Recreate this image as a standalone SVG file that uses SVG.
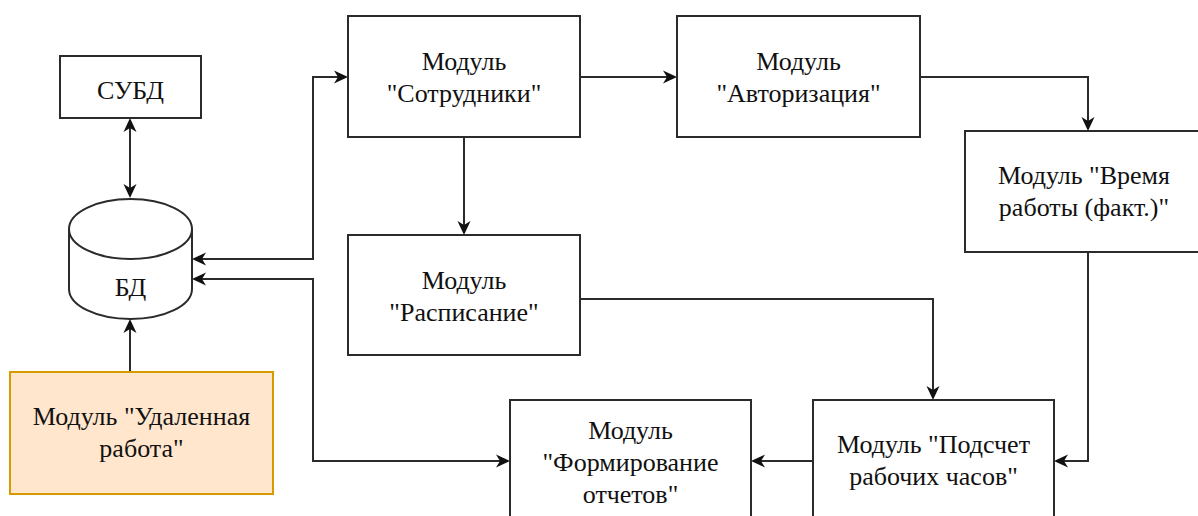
<svg xmlns="http://www.w3.org/2000/svg" width="1198" height="516" viewBox="0 0 1198 516">
<style>
.box{fill:#ffffff;stroke:#2b2b2b;stroke-width:2}
.orange{fill:#ffe6cc;stroke:#d79b00;stroke-width:2}
text{font-family:'Times New Roman','Liberation Serif','DejaVu Serif',serif;font-size:26px;fill:#111;text-anchor:middle}
.c{fill:none;stroke:#2b2b2b;stroke-width:2}
</style>
<defs>
<marker id="ah" markerUnits="userSpaceOnUse" markerWidth="16" markerHeight="16" viewBox="0 0 16 16" refX="10" refY="8" orient="auto-start-reverse">
<path d="M0,1.5 L14,8 L0,14.5 L4,8 Z" fill="#111"/>
</marker>
</defs>
<rect width="1198" height="516" fill="#ffffff"/>
<g id="connectors">
<path class="c" d="M130,122 L130,194" marker-start="url(#ah)" marker-end="url(#ah)"/>
<path class="c" d="M130,372 L130,323" marker-end="url(#ah)"/>
<path class="c" d="M196,259 L313,259 L313,77 L344,77" marker-start="url(#ah)" marker-end="url(#ah)"/>
<path class="c" d="M196,279 L313,279 L313,461 L506,461" marker-start="url(#ah)" marker-end="url(#ah)"/>
<path class="c" d="M580,77 L673,77" marker-end="url(#ah)"/>
<path class="c" d="M920,77 L1088,77 L1088,127" marker-end="url(#ah)"/>
<path class="c" d="M464,137 L464,231" marker-end="url(#ah)"/>
<path class="c" d="M580,299 L933,299 L933,396" marker-end="url(#ah)"/>
<path class="c" d="M1088,252 L1088,461 L1058,461" marker-end="url(#ah)"/>
<path class="c" d="M813,461 L755,461" marker-end="url(#ah)"/>
</g>
<g id="subd">
<rect class="box" x="60" y="56" width="141" height="62"/>
<text x="130.5" y="99" font-family="Liberation Serif">СУБД</text>
</g>
<g id="bd">
<path class="box" d="M69,229 A61.5,30 0 0 1 192,229 L192,289 A61.5,30 0 0 1 69,289 Z"/>
<path class="c" d="M69,229 A61.5,30 0 0 0 192,229"/>
<text x="130.5" y="296">БД</text>
</g>
<g id="remote">
<rect class="orange" x="10" y="372" width="263" height="122"/>
<text x="141.5" y="425">Модуль "Удаленная</text>
<text x="141.5" y="457">работа"</text>
</g>
<g id="employees">
<rect class="box" x="348" y="16" width="232" height="121"/>
<text x="464" y="70">Модуль</text>
<text x="464" y="102">"Сотрудники"</text>
</g>
<g id="auth">
<rect class="box" x="677" y="16" width="243" height="121"/>
<text x="798.5" y="70">Модуль</text>
<text x="798.5" y="102">"Авторизация"</text>
</g>
<g id="worktime">
<rect class="box" x="965" y="131" width="245" height="121"/>
<text x="1084" y="184">Модуль "Время</text>
<text x="1084" y="216">работы (факт.)"</text>
</g>
<g id="schedule">
<rect class="box" x="348" y="235" width="232" height="120"/>
<text x="464" y="289">Модуль</text>
<text x="464" y="321">"Расписание"</text>
</g>
<g id="reports">
<rect class="box" x="510" y="400" width="241" height="130"/>
<text x="630.5" y="439">Модуль</text>
<text x="630.5" y="471">"Формирование</text>
<text x="630.5" y="503">отчетов"</text>
</g>
<g id="hours">
<rect class="box" x="813" y="400" width="241" height="130"/>
<text x="933.5" y="453">Модуль "Подсчет</text>
<text x="933.5" y="485">рабочих часов"</text>
</g>
</svg>
